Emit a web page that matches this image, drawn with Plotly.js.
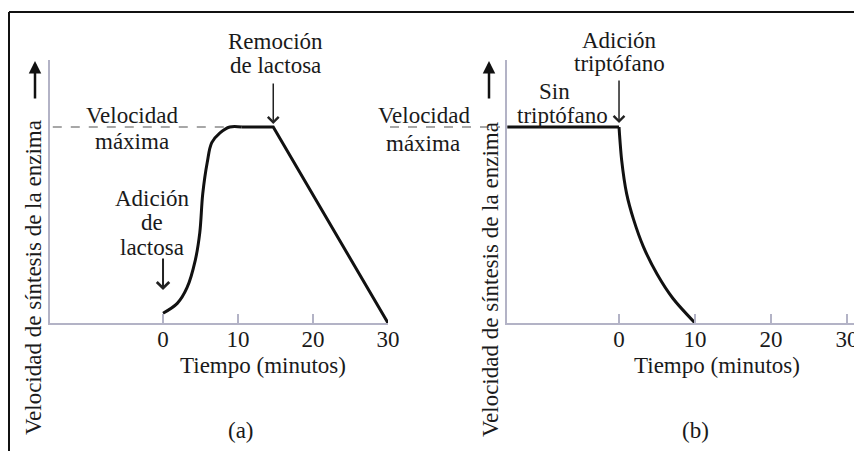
<!DOCTYPE html>
<html>
<head>
<meta charset="utf-8">
<script src="https://cdn.plot.ly/plotly-3.0.1.min.js"></script>
<style>html,body{margin:0;padding:0;background:#fff}#chart{width:854px;height:451px}</style>
</head>
<body>
<div id="chart"></div>
<script>
// ---- data: panel (a) lactose operon ----
var riseX = [0, 1.9, 3.2, 4.3, 4.9, 5.3, 5.9, 6.5, 7.6, 8.9, 10.5];
var riseY = [0.05, 0.10, 0.18, 0.32, 0.46, 0.66, 0.82, 0.92, 0.97, 1.0, 1.0];
var dropX = [10.5, 14.7, 30];
var dropY = [1.0, 1.0, 0];
// ---- data: panel (b) tryptophan operon ----
var flatX = [-14.7, 0];
var flatY = [1.0, 1.0];
var decayX = [0, 0.35, 1.0, 1.9, 3.2, 5.0, 7.1, 10];
var decayY = [1.0, 0.83, 0.66, 0.53, 0.39, 0.25, 0.125, 0];
// ---- ticks / labels ----
var tickVals = [0, 10, 20, 30];
var tickText = ['0', '10', '20', '30'];
var maxRate = 1.0;
var removalTime = 14.7;
var lactoseAddTime = 0;
var tryptophanAddTime = 0;
var xTitle = 'Tiempo (minutos)';
var yTitle = 'Velocidad de síntesis de la enzima';

var W = 854, H = 451;
function px(v) { return v / W; }
function py(v) { return 1 - v / H; }

var FONT = 'Liberation Serif, Times New Roman, serif';
var TXT = '#1a1a1a';
var AXC = '#b3b3c6';
var FS = 23;

var lineStyle = {color: '#111', width: 3};
var traces = [
  {x: riseX, y: riseY, xaxis: 'x', yaxis: 'y', mode: 'lines', line: Object.assign({shape: 'spline', smoothing: 1}, lineStyle), hoverinfo: 'skip'},
  {x: dropX, y: dropY, xaxis: 'x', yaxis: 'y', mode: 'lines', line: lineStyle, hoverinfo: 'skip'},
  {x: flatX, y: flatY, xaxis: 'x2', yaxis: 'y2', mode: 'lines', line: lineStyle, hoverinfo: 'skip'},
  {x: decayX, y: decayY, xaxis: 'x2', yaxis: 'y2', mode: 'lines', line: Object.assign({shape: 'spline', smoothing: 0.8}, lineStyle), hoverinfo: 'skip'}
];

function xax(domain, range, anchor) {
  return {
    domain: domain, range: range, anchor: anchor,
    tickvals: tickVals, ticktext: tickText,
    ticks: 'inside', ticklen: 9, tickwidth: 1.5, tickcolor: AXC,
    showline: true, linecolor: AXC, linewidth: 2,
    showgrid: false, zeroline: false, fixedrange: true,
    tickfont: {family: FONT, size: FS, color: TXT},
    ticklabelstandoff: -6, ticklabeloverflow: 'allow'
  };
}
function yax(anchor) {
  return {
    domain: [py(323), py(60)], range: [0, 1.342], anchor: anchor,
    showline: true, linecolor: AXC, linewidth: 2,
    showticklabels: false, ticks: '', showgrid: false, zeroline: false, fixedrange: true
  };
}

function label(text, cx, cy, extra) {
  return Object.assign({
    text: text, xref: 'paper', yref: 'paper', x: px(cx), y: py(cy),
    xanchor: 'center', yanchor: 'middle', showarrow: false,
    font: {family: FONT, size: FS, color: TXT}
  }, extra || {});
}

var annotations = [
  // panel (a)
  label('Remoción', 275, 41),
  label('de lactosa', 275, 65),
  label('Velocidad', 132, 115),
  label('máxima', 132, 141),
  label('Adición', 152, 199),
  label('de', 152, 223),
  label('lactosa', 152, 247),
  label(xTitle, 263, 365),
  label('(a)', 241, 430),
  label(yTitle, 33, 278, {textangle: -90}),
  // panel (b)
  label('Adición', 619, 40),
  label('triptófano', 619, 64),
  label('Sin', 554, 91),
  label('triptófano', 562, 115),
  label('Velocidad', 424, 115),
  label('máxima', 423, 143),
  label(xTitle, 717, 365),
  label('(b)', 695, 430),
  label(yTitle, 490, 280, {textangle: -90}),
  // arrows
  {text: '', xref: 'x', yref: 'y', x: removalTime, y: maxRate, ax: 0, ay: -45, standoff: 3,
   showarrow: true, arrowhead: 4, arrowsize: 1.4, arrowwidth: 1.5, arrowcolor: '#222'},
  {text: '', xref: 'x', yref: 'y', x: lactoseAddTime, y: 0.168, ax: 0, ay: -33, standoff: 0,
   showarrow: true, arrowhead: 4, arrowsize: 1.2, arrowwidth: 2, arrowcolor: '#222'},
  {text: '', xref: 'x2', yref: 'y2', x: tryptophanAddTime, y: maxRate, ax: 0, ay: -48, standoff: 4,
   showarrow: true, arrowhead: 4, arrowsize: 1.4, arrowwidth: 1.5, arrowcolor: '#222'},
  {text: '', xref: 'paper', yref: 'paper', x: px(35), y: py(61), ax: 0, ay: 39, standoff: 0,
   showarrow: true, arrowhead: 2, arrowsize: 1, arrowwidth: 2.5, arrowcolor: '#111'},
  {text: '', xref: 'paper', yref: 'paper', x: px(489), y: py(61), ax: 0, ay: 39, standoff: 0,
   showarrow: true, arrowhead: 2, arrowsize: 1, arrowwidth: 2.5, arrowcolor: '#111'}
];

var shapes = [
  // dashed max-rate reference lines
  {type: 'line', xref: 'x', yref: 'y', x0: -14.7, x1: 8.5, y0: maxRate, y1: maxRate,
   line: {color: '#8a8a8a', width: 1.5, dash: 'dash'}},
  {type: 'line', xref: 'paper', yref: 'y2', x0: px(390), x1: px(500), y0: maxRate, y1: maxRate,
   line: {color: '#8a8a8a', width: 1.5, dash: 'dash'}},
  // outer frame
  {type: 'line', xref: 'paper', yref: 'paper', x0: px(9), x1: 1, y0: py(12), y1: py(12),
   line: {color: '#111', width: 2}},
  {type: 'line', xref: 'paper', yref: 'paper', x0: px(9), x1: px(9), y0: 0, y1: py(12),
   line: {color: '#111', width: 2}}
];

var layout = {
  width: W, height: H,
  margin: {l: 0, r: 0, t: 0, b: 0},
  paper_bgcolor: '#fff', plot_bgcolor: 'rgba(0,0,0,0)',
  showlegend: false,
  xaxis: xax([px(50), px(388)], [-15.07, 30], 'y'),
  yaxis: yax('x'),
  xaxis2: xax([px(507), 1], [-14.74, 30.92], 'y2'),
  yaxis2: yax('x2'),
  annotations: annotations,
  shapes: shapes
};

Plotly.newPlot('chart', traces, layout, {displayModeBar: false, staticPlot: true});
</script>
</body>
</html>
